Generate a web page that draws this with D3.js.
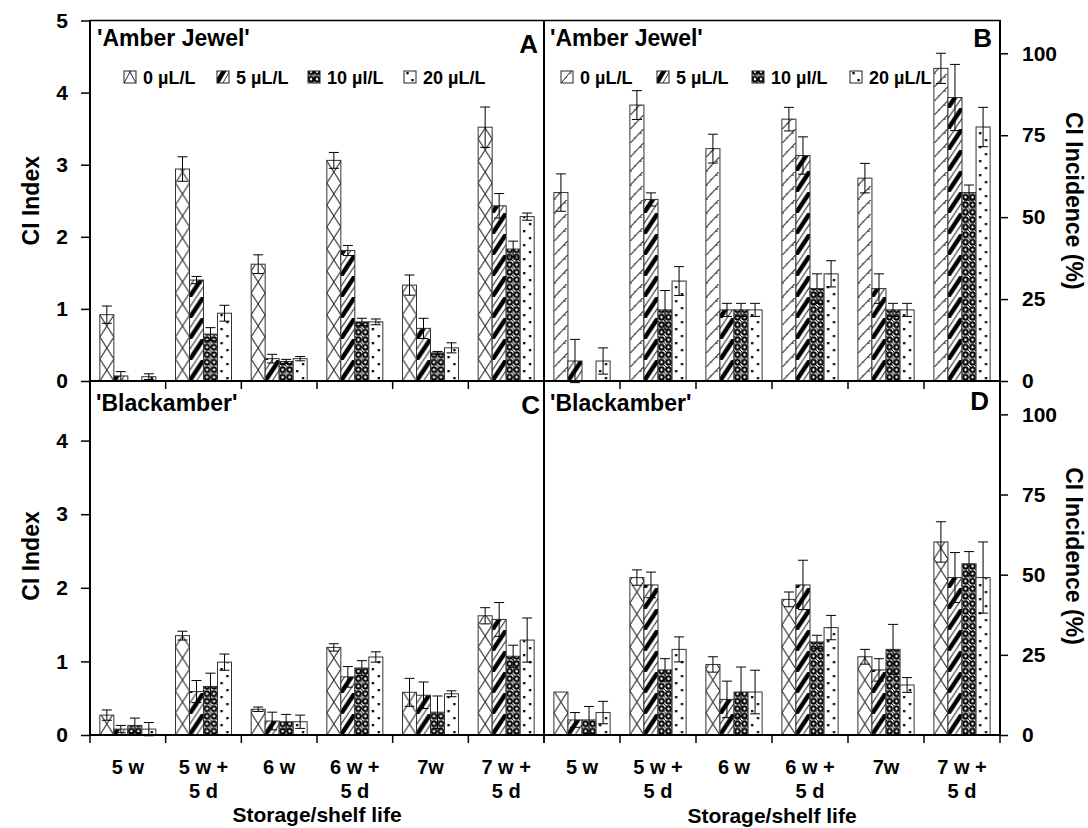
<!DOCTYPE html>
<html>
<head>
<meta charset="utf-8">
<script src="https://cdn.jsdelivr.net/npm/d3@7"></script>
<style>
  body { margin: 0; background: #fff; }
  svg { font-family: "Liberation Sans", Arial, sans-serif; font-weight: bold; }
</style>
</head>
<body>
<svg id="chart" width="1088" height="828"></svg>
<script>
// ---- data ---------------------------------------------------------------
const periods = ["5 w", "5 w +|5 d", "6 w", "6 w +|5 d", "7w", "7 w +|5 d"];
const doses = ["0 µL/L", "5 µL/L", "10 µl/L", "20 µL/L"];

// CI index, 'Amber Jewel' (one row per dose, one value per period)
const ajIndexMean = [
  [0.92, 2.94, 1.62, 3.06, 1.33, 3.52],
  [0.07, 1.40, 0.31, 1.81, 0.73, 2.43],
  [0.00, 0.65, 0.27, 0.82, 0.39, 1.83],
  [0.06, 0.94, 0.31, 0.82, 0.46, 2.28]
];
const ajIndexErr = [
  [0.12, 0.17, 0.13, 0.11, 0.14, 0.28],
  [0.06, 0.05, 0.06, 0.07, 0.14, 0.17],
  [0.00, 0.09, 0.03, 0.05, 0.02, 0.11],
  [0.04, 0.11, 0.03, 0.04, 0.07, 0.05]
];
// CI incidence (%), 'Amber Jewel'
const ajIncMean = [
  [57.5, 84.2, 70.9, 79.9, 61.9, 95.4],
  [6.1, 55.4, 21.7, 68.8, 28.2, 86.5],
  [0.0, 21.7, 21.7, 28.2, 21.7, 57.5],
  [6.1, 30.5, 21.7, 32.7, 21.7, 77.5]
];
const ajIncErr = [
  [5.7, 4.4, 4.4, 3.6, 4.5, 4.6],
  [6.6, 2.0, 2.0, 5.7, 4.5, 10.1],
  [0.0, 5.9, 2.0, 4.5, 2.0, 2.3],
  [4.0, 4.4, 2.0, 4.0, 2.0, 6.0]
];
// CI index, 'Blackamber'
const bkIndexMean = [
  [0.27, 1.35, 0.35, 1.19, 0.58, 1.62],
  [0.08, 0.59, 0.19, 0.79, 0.54, 1.57],
  [0.13, 0.66, 0.18, 0.91, 0.31, 1.07],
  [0.08, 0.99, 0.18, 1.06, 0.56, 1.29]
];
const bkIndexErr = [
  [0.07, 0.06, 0.03, 0.05, 0.19, 0.11],
  [0.05, 0.15, 0.12, 0.14, 0.18, 0.23],
  [0.10, 0.18, 0.10, 0.10, 0.22, 0.15],
  [0.09, 0.11, 0.09, 0.07, 0.04, 0.30]
];
// CI incidence (%), 'Blackamber'
const bkIncMean = [
  [13.4, 49.1, 22.0, 42.3, 24.4, 60.2],
  [4.7, 46.8, 11.1, 46.8, 20.3, 49.1],
  [4.7, 20.3, 13.4, 29.0, 26.7, 53.4],
  [7.0, 26.7, 13.4, 33.5, 15.6, 49.1]
];
const bkIncErr = [
  [0.0, 2.4, 2.4, 2.3, 2.3, 6.3],
  [2.3, 4.0, 5.7, 7.7, 3.5, 7.8],
  [4.2, 3.5, 7.8, 2.1, 7.8, 3.8],
  [3.5, 3.9, 6.8, 3.8, 2.3, 11.1]
];

const indexTicksTop = [0, 1, 2, 3, 4, 5];
const indexTicksBottom = [0, 1, 2, 3, 4];
const incidenceTicks = [0, 25, 50, 75, 100];

// ---- layout -------------------------------------------------------------
const xLeft = 90, xMid = 544, xRight = 1000;
const yTop = 20.5, yMid = 381, yBot = 735;

const svg = d3.select("#chart");
const defs = svg.append("defs");

const panels = [
  { letter: "A", name: "'Amber Jewel'", mean: ajIndexMean, err: ajIndexErr,
    xr: [xLeft, xMid], yr: [yMid, yTop], domain: [0, 5], axis: "left",
    ticks: indexTicksTop, legend: true, firstPat: "cross",
    nameXY: [97, 46], letterXY: [538, 53], legendX: [124, 217, 308, 404] },
  { letter: "B", name: "'Amber Jewel'", mean: ajIncMean, err: ajIncErr,
    xr: [xMid, xRight], yr: [yMid, yTop], domain: [0, 110], axis: "right",
    ticks: incidenceTicks, legend: true, firstPat: "slash",
    nameXY: [550, 46], letterXY: [992, 47], legendX: [561, 657, 752, 850] },
  { letter: "C", name: "'Blackamber'", mean: bkIndexMean, err: bkIndexErr,
    xr: [xLeft, xMid], yr: [yBot, yMid], domain: [0, 4.81], axis: "left",
    ticks: indexTicksBottom, legend: false, firstPat: "cross",
    nameXY: [96, 411], letterXY: [540, 414], labels: true, titleY: 822 },
  { letter: "D", name: "'Blackamber'", mean: bkIncMean, err: bkIncErr,
    xr: [xMid, xRight], yr: [yBot, yMid], domain: [0, 110.4], axis: "right",
    ticks: incidenceTicks, legend: false, firstPat: "cross",
    nameXY: [550, 411], letterXY: [989, 410], labels: true, titleY: 823 }
];

// ---- fill patterns ------------------------------------------------------
let patCount = 0;
function makePattern(kind, x0, y0, w) {
  const id = "pat" + (patCount++);
  let h;
  if (kind === "cross") h = 22;
  else if (kind === "slash") h = 14;
  else if (kind === "bold") h = 21;
  else if (kind === "rings") h = 7.5;
  else h = 14;
  const tileW = kind === "rings" ? w / 2 : w;
  const p = defs.append("pattern")
    .attr("id", id)
    .attr("patternUnits", "userSpaceOnUse")
    .attr("x", x0).attr("y", y0)
    .attr("width", tileW).attr("height", h);
  p.append("rect").attr("width", tileW).attr("height", h).attr("fill", "#fff");
  if (kind === "cross") {
    p.append("path")
      .attr("d", `M0,0L${w},${h}M0,${h}L${w},0`)
      .attr("stroke", "#222").attr("stroke-width", 1).attr("fill", "none");
  } else if (kind === "slash") {
    p.append("path")
      .attr("d", `M-1,${h + 1.5}L${w + 1},-1.5`)
      .attr("stroke", "#222").attr("stroke-width", 1).attr("fill", "none");
    p.append("path")
      .attr("d", `M${w * 0.3},${h * 0.62}l2,0M${w * 0.72},${h * 0.3}l2,0`)
      .attr("stroke", "#444").attr("stroke-width", 1);
  } else if (kind === "bold") {
    p.append("path")
      .attr("d", `M-2,${h + 3}L${w + 2},-3`)
      .attr("stroke", "#000").attr("stroke-width", 4.5).attr("fill", "none");
    p.append("path")
      .attr("d", `M-1,${h / 2 + 1.5}L${w / 2 + 1},-1.5M${w / 2 - 1},${h + 1.5}L${w + 1},${h / 2 - 1.5}`)
      .attr("stroke", "#333").attr("stroke-width", 1).attr("fill", "none");
  } else if (kind === "rings") {
    p.append("rect").attr("x", 0).attr("y", 0).attr("width", tileW).attr("height", h).attr("fill", "#fff");
    p.append("circle").attr("cx", tileW / 2).attr("cy", h / 2).attr("r", 3.4).attr("fill", "#000");
    p.append("circle").attr("cx", tileW / 2).attr("cy", h / 2).attr("r", 1.3).attr("fill", "#fff");
    p.append("rect").attr("x", -0.5).attr("y", -0.5).attr("width", 1.6).attr("height", 1.6).attr("fill", "#000");
    p.append("rect").attr("x", tileW - 1.1).attr("y", h - 1.1).attr("width", 1.6).attr("height", 1.6).attr("fill", "#000");
  } else {
    p.append("rect").attr("x", w * 0.28 - 1).attr("y", 3).attr("width", 2.3).attr("height", 2.3).attr("fill", "#000");
    p.append("rect").attr("x", w * 0.7 - 1).attr("y", 10).attr("width", 2.3).attr("height", 2.3).attr("fill", "#000");
  }
  return `url(#${id})`;
}
function patternKind(panel, s) {
  return [panel.firstPat, "bold", "rings", "dots"][s];
}

// ---- panels -------------------------------------------------------------
panels.forEach(panel => {
  const g = svg.append("g");
  const x = d3.scaleBand().domain(periods).range(panel.xr).paddingInner(0).paddingOuter(0);
  const bw = x.bandwidth();
  const xs = d3.scaleBand().domain(doses).range([bw * 0.13, bw * 0.87]);
  const y = d3.scaleLinear().domain(panel.domain).range(panel.yr);

  // bars
  const rows = [];
  panel.mean.forEach((vals, s) => vals.forEach((v, i) => {
    rows.push({ s, period: periods[i], dose: doses[s], v, e: panel.err[s][i] });
  }));

  g.selectAll("rect.bar")
    .data(rows.filter(d => d.v > 0))
    .join("rect")
    .attr("class", "bar")
    .attr("x", d => x(d.period) + xs(d.dose))
    .attr("y", d => y(d.v))
    .attr("width", xs.bandwidth())
    .attr("height", d => y(0) - y(d.v))
    .attr("fill", d => makePattern(patternKind(panel, d.s), x(d.period) + xs(d.dose), y(0), xs.bandwidth()))
    .attr("stroke", "#333")
    .attr("stroke-width", 1);

  // error bars
  const eb = g.selectAll("g.err")
    .data(rows.filter(d => d.v > 0 && d.e > 0))
    .join("g").attr("class", "err")
    .attr("transform", d => `translate(${x(d.period) + xs(d.dose) + xs.bandwidth() / 2},0)`);
  eb.append("line")
    .attr("y1", d => y(d.v - d.e)).attr("y2", d => y(d.v + d.e))
    .attr("stroke", "#000").attr("stroke-width", 1);
  eb.append("line")
    .attr("x1", -5).attr("x2", 5)
    .attr("y1", d => y(d.v + d.e)).attr("y2", d => y(d.v + d.e))
    .attr("stroke", "#000").attr("stroke-width", 1);
  eb.append("line")
    .attr("x1", -5).attr("x2", 5)
    .attr("y1", d => y(d.v - d.e)).attr("y2", d => y(d.v - d.e))
    .attr("stroke", "#000").attr("stroke-width", 1);

  // value axis
  if (panel.axis === "left") {
    const ax = g.append("g").attr("transform", `translate(${xLeft},0)`)
      .call(d3.axisLeft(y).tickValues(panel.ticks).tickSize(9).tickPadding(13).tickFormat(d3.format("d")));
    ax.select(".domain").remove();
    ax.selectAll("line").attr("stroke", "#000").attr("stroke-width", 1.5);
    ax.selectAll("text").attr("font-size", 21).attr("font-weight", "bold").attr("fill", "#000")
      .attr("font-family", "Liberation Sans, Arial, sans-serif");
  } else {
    const ax = g.append("g").attr("transform", `translate(${xRight},0)`)
      .call(d3.axisRight(y).tickValues(panel.ticks).tickSize(8).tickPadding(14).tickFormat(d3.format("d")));
    ax.select(".domain").remove();
    ax.selectAll("line").attr("stroke", "#000").attr("stroke-width", 1.5);
    ax.selectAll("text").attr("font-size", 21).attr("font-weight", "bold").attr("fill", "#000")
      .attr("font-family", "Liberation Sans, Arial, sans-serif");
  }

  // group boundary ticks on the zero line
  const bounds = periods.map(p => x(p)).concat([panel.xr[1]]);
  g.selectAll("line.gtick").data(bounds).join("line")
    .attr("class", "gtick")
    .attr("x1", d => d).attr("x2", d => d)
    .attr("y1", y(0)).attr("y2", y(0) + 8)
    .attr("stroke", "#000").attr("stroke-width", 1.5);

  // category labels (bottom row only)
  if (panel.labels) {
    const lab = g.selectAll("text.cat").data(periods).join("text")
      .attr("class", "cat")
      .attr("text-anchor", "middle")
      .attr("font-size", 20)
      .attr("x", d => x(d) + bw / 2);
    lab.each(function (d) {
      const parts = d.split("|");
      const t = d3.select(this);
      parts.forEach((line, k) => {
        t.append("tspan").attr("x", x(d) + bw / 2).attr("y", 774 + k * 24).text(line);
      });
    });
    g.append("text")
      .attr("x", (panel.xr[0] + panel.xr[1]) / 2)
      .attr("y", panel.titleY)
      .attr("text-anchor", "middle")
      .attr("font-size", 21)
      .text("Storage/shelf life");
  }

  // cultivar name and panel letter
  g.append("text").attr("x", panel.nameXY[0]).attr("y", panel.nameXY[1])
    .attr("font-size", 23).text(panel.name);
  g.append("text").attr("x", panel.letterXY[0]).attr("y", panel.letterXY[1])
    .attr("text-anchor", "end").attr("font-size", 26).text(panel.letter);

  // legend
  if (panel.legend) {
    doses.forEach((d, s) => {
      const lx = panel.legendX[s];
      g.append("rect")
        .attr("x", lx).attr("y", 71).attr("width", 12).attr("height", 12)
        .attr("fill", makePattern(patternKind(panel, s), lx, 83, 12))
        .attr("stroke", "#222").attr("stroke-width", 1);
      g.append("text").attr("x", lx + 19).attr("y", 84)
        .attr("font-size", 18).text(d);
    });
  }
});

// ---- frame lines --------------------------------------------------------
const frame = svg.append("g").attr("stroke", "#000").attr("fill", "none");
frame.append("line").attr("x1", xLeft - 1).attr("x2", xRight + 1).attr("y1", yTop).attr("y2", yTop).attr("stroke-width", 1.5);
frame.append("line").attr("x1", xLeft).attr("x2", xRight).attr("y1", yMid).attr("y2", yMid).attr("stroke-width", 2);
frame.append("line").attr("x1", xLeft).attr("x2", xRight).attr("y1", yBot).attr("y2", yBot).attr("stroke-width", 2);
[xLeft, xMid, xRight].forEach(xv => {
  frame.append("line").attr("x1", xv).attr("x2", xv).attr("y1", yTop).attr("y2", yBot).attr("stroke-width", 2);
});

// ---- axis titles --------------------------------------------------------
const titles = svg.append("g").attr("font-size", 23).attr("text-anchor", "middle");
titles.append("text").attr("transform", `translate(31,${(yTop + yMid) / 2}) rotate(-90)`)
  .attr("dy", "0.35em").text("CI Index");
titles.append("text").attr("transform", `translate(31,${(yMid + yBot) / 2 - 2}) rotate(-90)`)
  .attr("dy", "0.35em").text("CI Index");
titles.append("text").attr("transform", `translate(1074,${(yTop + yMid) / 2}) rotate(90)`)
  .attr("dy", "0.35em").text("CI Incidence (%)");
titles.append("text").attr("transform", `translate(1074,${(yMid + yBot) / 2 - 2}) rotate(90)`)
  .attr("dy", "0.35em").text("CI Incidence (%)");
</script>
</body>
</html>
